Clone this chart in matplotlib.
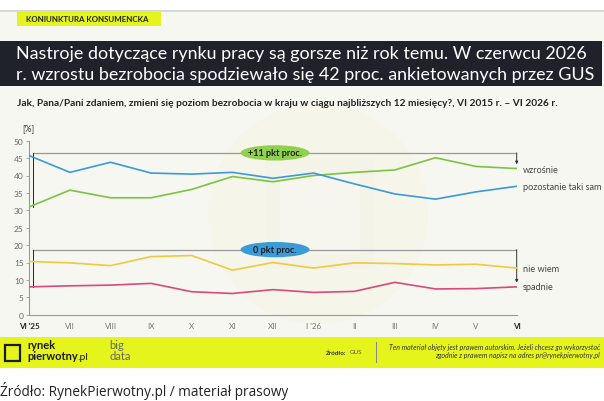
import matplotlib
matplotlib.use('Agg')
import matplotlib.pyplot as plt
from matplotlib.patches import Rectangle, Ellipse

plt.rcParams['font.family'] = ['Lato', 'DejaVu Sans']

# Survey data, VI 2025 - VI 2026 (percent)
months = ["VI '25", 'VII', 'VIII', 'IX', 'X', 'XI', 'XII', "I '26", 'II', 'III', 'IV', 'V', 'VI']
wzrosnie = [31.0, 35.8, 33.6, 33.6, 36.0, 39.7, 38.2, 40.0, 40.9, 41.6, 45.1, 42.6, 42.0]
taki_sam = [45.7, 40.9, 43.8, 40.7, 40.4, 40.9, 39.2, 40.7, 37.6, 34.7, 33.2, 35.3, 36.9]
nie_wiem = [15.3, 14.9, 14.1, 16.7, 17.0, 12.8, 15.0, 13.4, 14.9, 14.7, 14.3, 14.5, 13.4]
spadnie = [8.0, 8.3, 8.5, 9.0, 6.6, 6.1, 7.2, 6.4, 6.7, 9.3, 7.4, 7.5, 8.0]

W, H = 604, 402
fig = plt.figure(figsize=(W / 100, H / 100), dpi=100)
fig.patch.set_facecolor('white')


def fx(x):
    return x / W


def fy(y):
    return 1 - y / H


def rect(x0, y0, x1, y1, color, z=0):
    fig.add_artist(Rectangle((fx(x0), fy(y1)), fx(x1) - fx(x0), fy(y0) - fy(y1),
                             transform=fig.transFigure, facecolor=color,
                             edgecolor='none', zorder=z))


# page background
rect(0, 12, W, 338, '#f7f7f2', -3)
rect(0, 11, W, 12.5, '#d8d8d8', -3)
# faint watermark
fig.add_artist(Ellipse((fx(318), fy(215)), 220 / W, 220 / H, transform=fig.transFigure,
                       facecolor='#f5f5ea', edgecolor='none', zorder=-2))
rect(265, 160, 375, 270, '#f3f3e7', -1.5)
rect(280, 175, 360, 255, '#f6f6ee', -1.4)

# tag
rect(17, 12, 161, 27, '#e6f41e', 1)
fig.text(fx(26), fy(19.5), 'KONIUNKTURA KONSUMENCKA', fontsize=5.7, fontweight='bold',
         color='#222222', va='center')

# title
rect(0, 42, 602, 87, '#20222b', 1)
fig.text(fx(16), fy(54), 'Nastroje dotyczące rynku pracy są gorsze niż rok temu. W czerwcu 2026',
         fontsize=12.9, color='white', va='center', zorder=2)
fig.text(fx(16), fy(75), 'r. wzrostu bezrobocia spodziewało się 42 proc. ankietowanych przez GUS',
         fontsize=12.9, color='white', va='center', zorder=2)

fig.text(fx(17), fy(104),
         'Jak, Pana/Pani zdaniem, zmieni się poziom bezrobocia w kraju w ciągu najbliższych 12 miesięcy?, VI 2015 r. – VI 2026 r.',
         fontsize=7.3, fontweight='bold', color='#222222', va='center')
fig.text(fx(22), fy(129), '[%]', fontsize=6.2, color='#333333', va='center')

# chart
ax = fig.add_axes([fx(29.3), fy(315.7), fx(516.7) - fx(29.3), fy(141.7) - fy(315.7)])
ax.set_facecolor('none')
x = range(len(months))
ax.plot(x, wzrosnie, color='#7dc242', lw=1.2, zorder=3)
ax.plot(x, taki_sam, color='#3b9ad8', lw=1.2, zorder=3)
ax.plot(x, nie_wiem, color='#f0c93c', lw=1.2, zorder=3)
ax.plot(x, spadnie, color='#d9497c', lw=1.2, zorder=3)

ax.set_xlim(0, 12)
ax.set_ylim(0, 50)
ax.set_yticks(range(0, 51, 5))
ax.set_xticks(list(x))
ax.set_xticklabels(months)
for i, lab in enumerate(ax.get_xticklabels()):
    if i in (0, 12):
        lab.set_fontweight('bold')
        lab.set_color('#222222')
    else:
        lab.set_color('#777777')
ax.tick_params(axis='x', length=0, labelsize=5.8, pad=5)
ax.tick_params(axis='y', length=2, width=0.6, color='#999999', labelsize=6,
               labelcolor='#666666', pad=2)
for s in ('top', 'right'):
    ax.spines[s].set_visible(False)
for s in ('left', 'bottom'):
    ax.spines[s].set_color('#999999')
    ax.spines[s].set_linewidth(0.8)

# change brackets
for top, start, end, label, col in [(46.5, wzrosnie[0], wzrosnie[-1], '+11 pkt proc.', '#8fd14f'),
                                     (18.7, spadnie[0], spadnie[-1], '0 pkt proc.', '#3b9ad8')]:
    ax.plot([0.1, 12], [top, top], color='#999999', lw=0.9, zorder=2)
    ax.plot([0.1, 0.1], [top, start], color='#222222', lw=0.7, zorder=2)
    ax.annotate('', xy=(12, end + 1.2), xytext=(12, top),
                arrowprops=dict(arrowstyle='-|>', color='#333333', lw=0.7,
                                mutation_scale=4, shrinkA=0, shrinkB=0), zorder=2)
    ax.add_patch(Ellipse((6.05, top), 1.7, 4.4, facecolor=col, edgecolor='none', zorder=4))
    ax.text(6.05, top, label, fontsize=6.6, fontweight='bold', color='#1f1f1f',
            ha='center', va='center', zorder=5)

fig.text(fx(523), fy(171), 'wzrośnie', fontsize=6.6, color='#444444', va='center')
fig.text(fx(523), fy(187), 'pozostanie taki sam', fontsize=6.6, color='#444444', va='center')
fig.text(fx(523), fy(269), 'nie wiem', fontsize=6.6, color='#444444', va='center')
fig.text(fx(523), fy(287), 'spadnie', fontsize=6.6, color='#444444', va='center')

# footer band
rect(0, 338, W, 369, '#e5f51c', 1)
fig.add_artist(Rectangle((fx(5), fy(362)), fx(15), fy(346) - fy(362), transform=fig.transFigure,
                         facecolor='none', edgecolor='#1c1c1c', lw=1.6, zorder=2))
fig.text(fx(27), fy(346), 'rynek', fontsize=8, fontweight='bold', color='#1c1c1c', va='center', zorder=3)
fig.text(fx(27), fy(357), 'pierwotny', fontsize=8, fontweight='bold', color='#1c1c1c', va='center', zorder=3)
fig.text(fx(77), fy(357.5), '.pl', fontsize=7.5, color='#1c1c1c', va='center', zorder=3)
rect(99.5, 343, 100.3, 364, '#777777', 2)
fig.text(fx(109), fy(346), 'big', fontsize=8, color='#666666', va='center', zorder=3)
fig.text(fx(109), fy(357), 'data', fontsize=8, color='#666666', va='center', zorder=3)
fig.text(fx(326), fy(353), 'Źródło:', fontsize=4.5, fontweight='bold', color='#333333', va='center', zorder=3)
fig.text(fx(350), fy(353), 'GUS', fontsize=4.5, color='#555555', va='center', zorder=3)
rect(376, 343, 376.8, 364, '#888888', 2)
fig.text(fx(600), fy(348), 'Ten materiał objęty jest prawem autorskim. Jeżeli chcesz go wykorzystać',
         fontsize=5, style='italic', color='#333333', ha='right', va='center', zorder=3)
fig.text(fx(600), fy(356), 'zgodnie z prawem napisz na adres pr@rynekpierwotny.pl',
         fontsize=5, style='italic', color='#333333', ha='right', va='center', zorder=3)

fig.text(fx(0), fy(391), 'Źródło: RynekPierwotny.pl / materiał prasowy', fontsize=9.8,
         family=['Open Sans', 'DejaVu Sans'], color='#222222', va='center')

fig.savefig('out.png', dpi=100, facecolor=fig.get_facecolor())
